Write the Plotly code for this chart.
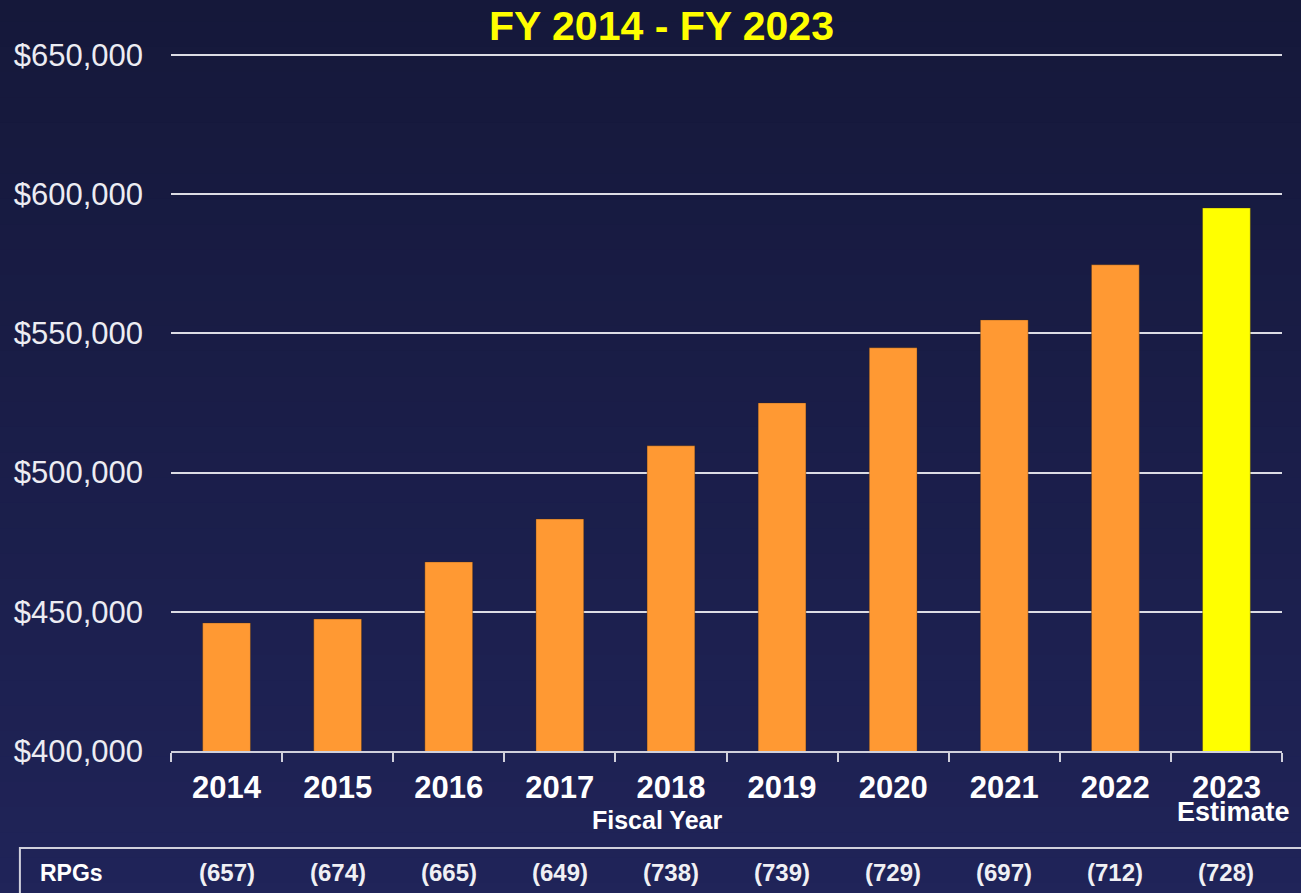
import plotly.graph_objects as go

# data
years = ["2014", "2015", "2016", "2017", "2018", "2019", "2020", "2021", "2022", "2023"]
funding = [446000, 447400, 467900, 483300, 509600, 525000, 544800, 554800, 574600, 595000]
rpgs = ["(657)", "(674)", "(665)", "(649)", "(738)", "(739)", "(729)", "(697)", "(712)", "(728)"]
y_ticks = [400000, 450000, 500000, 550000, 600000, 650000]
y_labels = ["$400,000", "$450,000", "$500,000", "$550,000", "$600,000", "$650,000"]

ORANGE = "#FF9933"
YELLOW = "#FFFF00"
FONT = "Liberation Sans, Arial, sans-serif"

bar_colors = [ORANGE] * (len(years) - 1) + [YELLOW]

fig = go.Figure()

fig.add_trace(go.Bar(
    x=years,
    y=funding,
    marker=dict(color=bar_colors, line=dict(color="rgba(60,40,20,0.35)", width=1)),
    hoverinfo="x+y",
))

# vertical gradient background made of thin bands
top_rgb = (21, 24, 58)
bot_rgb = (33, 37, 92)
n_bands = 40
shapes = []
for i in range(n_bands):
    t = i / (n_bands - 1)
    c = tuple(round(top_rgb[k] + (bot_rgb[k] - top_rgb[k]) * t) for k in range(3))
    y_top = 1.08 - i * (1.45 / n_bands)
    shapes.append(dict(
        type="rect", xref="paper", yref="paper",
        x0=-0.2, x1=1.1, y0=y_top - 1.45 / n_bands - 0.002, y1=y_top,
        fillcolor="rgb(%d,%d,%d)" % c, line_width=0, layer="below",
    ))

# table box for the RPG row
shapes.append(dict(
    type="rect", xref="paper", yref="paper",
    x0=-0.136, x1=1.05, y0=-0.1388, y1=-0.35,
    line=dict(color="#d0d0dc", width=2), fillcolor="rgba(0,0,0,0)",
))

annotations = [
    dict(text="<b>FY 2014 - FY 2023</b>", x=0.4415, y=1.0372, xref="paper", yref="paper",
         yanchor="middle", showarrow=False, font=dict(family=FONT, size=41, color=YELLOW)),
    dict(text="<b>Fiscal Year</b>", x=0.4375, y=-0.0987, xref="paper", yref="paper",
         yanchor="middle", showarrow=False, font=dict(family=FONT, size=25, color="white")),
    dict(text="<b>Estimate</b>", x=9, y=-0.0873, xref="x", yref="paper",
         yanchor="middle", xshift=7, showarrow=False,
         font=dict(family=FONT, size=27, color="white")),
    dict(text="<b>RPGs</b>", x=-0.1179, y=-0.1745, xref="paper", yref="paper",
         xanchor="left", yanchor="middle", xshift=-2, showarrow=False,
         font=dict(family=FONT, size=23, color="white")),
]
for i, r in enumerate(rpgs):
    annotations.append(dict(
        text="<b>%s</b>" % r, x=i, y=-0.1745, xref="x", yref="paper", yanchor="middle",
        showarrow=False, font=dict(family=FONT, size=24, color="#f0f0f4"),
    ))

fig.update_layout(
    width=1301,
    height=893,
    margin=dict(l=171, r=19, t=52, b=142),
    paper_bgcolor="#1b1f4a",
    plot_bgcolor="rgba(0,0,0,0)",
    showlegend=False,
    bargap=0.57,
    shapes=shapes,
    annotations=annotations,
    font=dict(family=FONT, color="white"),
)

fig.update_xaxes(
    type="category",
    categoryorder="array",
    categoryarray=years,
    range=[-0.5, 9.5],
    showgrid=False,
    showline=True,
    linecolor="#d0d0dc",
    linewidth=2,
    ticks="outside",
    tickson="boundaries",
    ticklen=9,
    tickwidth=2,
    tickcolor="#d0d0dc",
    tickangle=0,
    ticklabelstandoff=8,
    tickfont=dict(family=FONT, size=31, color="white", weight="bold"),
)

fig.update_yaxes(
    range=[400000, 651000],
    tickvals=y_ticks,
    ticktext=y_labels,
    showgrid=True,
    gridcolor="#dcdce4",
    gridwidth=2,
    zeroline=False,
    showline=False,
    ticks="",
    ticklabelstandoff=27,
    tickfont=dict(family=FONT, size=31, color="#ececf2"),
)

fig.write_html("out.html", config={"displayModeBar": False},
               post_script="document.body.style.margin='0';")
